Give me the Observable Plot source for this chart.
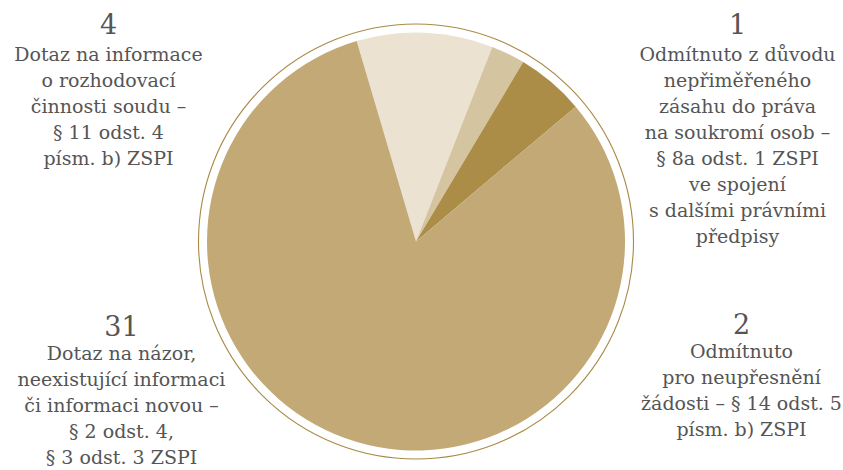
<!DOCTYPE html>
<html><head><meta charset="utf-8">
<script src="https://cdn.jsdelivr.net/npm/d3@7"></script>
<script src="https://cdn.jsdelivr.net/npm/@observablehq/plot@0.6"></script>
<style>
html,body{margin:0;padding:0;background:#fff}
#chart svg{display:block}
</style>
</head><body><div id="chart"></div>
<script>
// ---- data ----
const categories = ["informace o rozhodovací činnosti", "nepřiměřený zásah do soukromí", "neupřesnění žádosti", "názor, neexistující či nová informace"];
const counts = [4, 1, 2, 31];
const labelTexts = [
  "Dotaz na informace\no rozhodovací\nčinnosti soudu –\n§ 11 odst. 4\npísm. b) ZSPI",
  "Odmítnuto z důvodu\nnepřiměřeného\nzásahu do práva\nna soukromí osob –\n§ 8a odst. 1 ZSPI\nve spojení\ns dalšími právními\npředpisy",
  "Odmítnuto\npro neupřesnění\nžádosti – § 14 odst. 5\npísm. b) ZSPI",
  "Dotaz na názor,\nneexistující informaci\nči informaci novou –\n§ 2 odst. 4,\n§ 3 odst. 3 ZSPI"
];
const sliceColors = ["#ebe2d2", "#d5c4a0", "#ab8d48", "#c2a976"];

// ---- layout ----
const W = 843, H = 470;
const CX = 416, CY = 241.5, R = 209, RING = 217.5;
const START = -16.5 * Math.PI / 180;
const FONT = "DejaVu Serif";
const NUM_SIZE = 27, BODY_SIZE = 19, LINE = 26;
// label placement per category: horizontal centre, baseline of number, baseline of first text line
const labelLayout = [
  {cx: 108, numBase: 33, bodyBase: 60.5},
  {cx: 737, numBase: 33, bodyBase: 60.7},
  {cx: 741, numBase: 333, bodyBase: 358},
  {cx: 121, numBase: 335, bodyBase: 360}
];

const rows = categories.map((c, i) => ({category: c, count: counts[i], label: labelTexts[i]}));
const color = Plot.scale({color: {type: "ordinal", domain: categories, range: sliceColors}});
const pie = d3.pie().value(d => d.count).sort(null).startAngle(START).endAngle(START + 2 * Math.PI);
const arcs = pie(rows);

function pieMark(index, scales, values, dimensions) {
  const g = d3.create("svg:g").attr("transform", `translate(${CX},${CY})`);
  const arc = d3.arc().innerRadius(0).outerRadius(R);
  g.selectAll("path").data(arcs).join("path")
    .attr("d", arc)
    .attr("fill", d => color.apply(d.data.category));
  g.append("circle").attr("r", RING).attr("fill", "none").attr("stroke", "#a88a45").attr("stroke-width", 1.1);
  return g.node();
}

const textMarks = [];
rows.forEach((d, i) => {
  const L = labelLayout[i];
  textMarks.push(Plot.text([d], {
    text: d => String(d.count), frameAnchor: "top-left", textAnchor: "middle", lineAnchor: "top",
    dx: L.cx, dy: L.numBase - 0.71 * NUM_SIZE,
    fontSize: NUM_SIZE, fontFamily: FONT, fill: "#555555"
  }));
  textMarks.push(Plot.text([d], {
    text: "label", frameAnchor: "top-left", textAnchor: "middle", lineAnchor: "top",
    dx: L.cx, dy: L.bodyBase - 0.71 * LINE, lineHeight: LINE / BODY_SIZE,
    fontSize: BODY_SIZE, fontFamily: FONT, fill: "#555555"
  }));
});

const chart = Plot.plot({
  width: W, height: H,
  margin: 0,
  style: {background: "#fff", fontFamily: FONT},
  marks: [pieMark, ...textMarks]
});
document.getElementById("chart").appendChild(chart);
</script>
</body></html>
